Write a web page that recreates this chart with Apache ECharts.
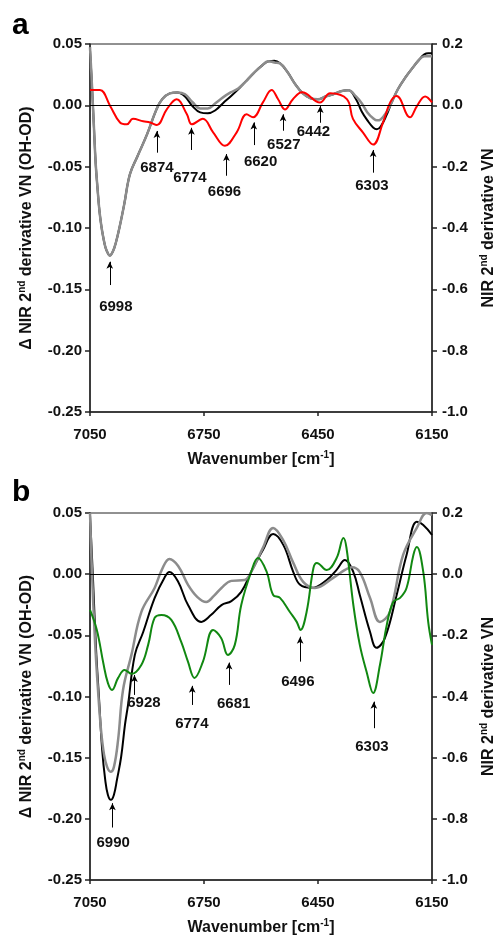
<!DOCTYPE html>
<html>
<head>
<meta charset="utf-8">
<script src="https://cdn.jsdelivr.net/npm/echarts@6/dist/echarts.min.js"></script>
<style>
html,body{margin:0;padding:0;background:#fff;}
#chart{width:498px;height:936px;}
</style>
</head>
<body>
<div id="chart"></div>
<script>
// ---------- Data: panel a ----------
const xTicks = [7050, 6750, 6450, 6150];

const blackA_wn = [7050,7045,7040,7035,7030,7025,7020,7015,7010,7005,6998,6990,6982,6972,6960,6945,6925,6900,6875,6860,6840,6820,6800,6780,6760,6740,6720,6700,6680,6660,6640,6620,6600,6580,6565,6550,6530,6510,6490,6470,6450,6430,6410,6390,6370,6350,6335,6320,6305,6295,6285,6270,6255,6240,6220,6200,6185,6170,6160,6150];
const blackA = [0.18,0.069,-0.062,-0.19,-0.274,-0.346,-0.395,-0.431,-0.46,-0.477,-0.49,-0.477,-0.448,-0.396,-0.323,-0.225,-0.166,-0.095,-0.013,0.02,0.039,0.042,0.029,-0.003,-0.023,-0.026,-0.016,0.007,0.029,0.052,0.078,0.104,0.127,0.144,0.145,0.137,0.108,0.069,0.039,0.023,0.02,0.029,0.036,0.046,0.049,0.02,-0.02,-0.049,-0.072,-0.078,-0.069,-0.033,0.013,0.052,0.091,0.124,0.147,0.166,0.17,0.17];
const grayA = [0.19,0.069,-0.062,-0.19,-0.274,-0.346,-0.395,-0.431,-0.46,-0.477,-0.49,-0.477,-0.448,-0.396,-0.323,-0.225,-0.166,-0.095,-0.013,0.02,0.039,0.042,0.036,0.01,-0.01,-0.01,0.007,0.026,0.042,0.055,0.078,0.104,0.127,0.144,0.14,0.137,0.108,0.069,0.039,0.023,0.02,0.029,0.036,0.046,0.049,0.029,0.007,-0.023,-0.042,-0.049,-0.046,-0.023,0.013,0.052,0.091,0.124,0.147,0.16,0.16,0.16];

const redA_wn = [7050,7024,6997,6971,6953,6937,6910,6892,6874,6848,6822,6795,6782,6753,6726,6695,6664,6638,6621,6595,6572,6555,6537,6516,6492,6445,6418,6374,6358,6332,6305,6279,6260,6243,6208,6190,6168,6150];
const redA = [0.0125,0.0125,-0.0005,-0.014,-0.0155,-0.011,-0.013,-0.014,-0.016,-0.0033,0.0049,-0.0073,-0.0155,-0.011,-0.022,-0.033,-0.022,-0.0073,-0.0098,0.0024,0.0125,0.005,-0.0033,0.005,0.0106,0.0024,0.0098,0.005,-0.011,-0.022,-0.032,-0.014,0.0024,0.0076,-0.0098,-0.0008,0.0073,0.0024];

// ---------- Data: panel b ----------
const blackB_wn = [7050,7042,7034,7026,7018,7010,7003,6995,6987,6979,6968,6958,6950,6932,6910,6880,6853,6841,6818,6792,6757,6731,6704,6678,6652,6626,6595,6568,6541,6515,6497,6467,6427,6401,6379,6357,6340,6313,6296,6274,6243,6217,6190,6173,6150];
const blackB = [0.193,-0.019,-0.247,-0.411,-0.574,-0.672,-0.721,-0.738,-0.721,-0.672,-0.597,-0.493,-0.428,-0.264,-0.189,-0.078,-0.009,0.007,-0.025,-0.101,-0.156,-0.133,-0.101,-0.088,-0.058,0.007,0.079,0.131,0.095,0.007,-0.035,-0.045,-0.019,0.014,0.046,0.007,-0.068,-0.189,-0.241,-0.209,-0.068,0.063,0.171,0.161,0.128];

const grayB_wn = [7050,7045,7037,7029,7021,7013,7005,6996,6987,6976,6963,6941,6915,6880,6861,6841,6818,6792,6768,6744,6724,6704,6678,6643,6626,6595,6568,6542,6515,6489,6458,6410,6379,6361,6340,6313,6287,6261,6226,6190,6164,6150];
const grayB = [0.2,0.014,-0.215,-0.378,-0.509,-0.59,-0.63,-0.646,-0.63,-0.541,-0.378,-0.264,-0.124,-0.045,0.014,0.05,0.027,-0.035,-0.074,-0.091,-0.071,-0.045,-0.022,-0.019,0.007,0.086,0.151,0.112,0.037,-0.025,-0.045,-0.012,0.014,0.023,0.007,-0.078,-0.156,-0.124,0.063,0.151,0.2,0.193];

const greenB_wn = [7050,7032,7015,7003,6992,6976,6959,6941,6915,6897,6880,6862,6836,6810,6792,6775,6753,6726,6705,6687,6669,6652,6626,6608,6585,6568,6550,6524,6506,6496,6480,6462,6453,6427,6401,6383,6375,6357,6340,6322,6305,6287,6269,6252,6234,6217,6199,6190,6173,6160,6150];
const greenB = [-0.0292,-0.0456,-0.0726,-0.0889,-0.0946,-0.0848,-0.0783,-0.0815,-0.0742,-0.0578,-0.0358,-0.0333,-0.0374,-0.0554,-0.0717,-0.0848,-0.0717,-0.0456,-0.0521,-0.066,-0.0578,-0.0252,0.0018,0.0132,0.0018,-0.017,-0.0194,-0.0309,-0.039,-0.0456,-0.0309,0.0051,0.0092,0.0034,0.0132,0.0296,0.0214,-0.0252,-0.0578,-0.0799,-0.0971,-0.0742,-0.0415,-0.0227,-0.0194,-0.0113,0.0157,0.0222,0.0018,-0.039,-0.0578];

// ---------- Peak annotations (arrow x, arrow tip, arrow tail, label x, label y) in left-axis units ----------
const annA = [
  {t:'6998', x:6998, tip:-0.1275, tail:-0.1465, lx:6982, ly:-0.1641},
  {t:'6874', x:6874, tip:-0.0209, tail:-0.0386, lx:6874, ly:-0.0511},
  {t:'6774', x:6783, tip:-0.0183, tail:-0.0364, lx:6787, ly:-0.0593},
  {t:'6696', x:6691, tip:-0.0397, tail:-0.0574, lx:6696, ly:-0.0709},
  {t:'6620', x:6619, tip:-0.0139, tail:-0.0324, lx:6601, ly:-0.046},
  {t:'6527', x:6542, tip:-0.0073, tail:-0.0207, lx:6540, ly:-0.0324},
  {t:'6442', x:6444, tip:-0.0006, tail:-0.0142, lx:6462, ly:-0.022},
  {t:'6303', x:6305, tip:-0.0364, tail:-0.0549, lx:6308, ly:-0.0658}
];
const annB = [
  {t:'6990', x:6991, tip:-0.1872, tail:-0.2071, lx:6989, ly:-0.2199},
  {t:'6928', x:6933, tip:-0.0824, tail:-0.0987, lx:6908, ly:-0.1055},
  {t:'6774', x:6781, tip:-0.0913, tail:-0.1069, lx:6782, ly:-0.1224},
  {t:'6681', x:6684, tip:-0.0723, tail:-0.0905, lx:6672, ly:-0.1063},
  {t:'6496', x:6497, tip:-0.0511, tail:-0.0715, lx:6503, ly:-0.0883},
  {t:'6303', x:6303, tip:-0.1042, tail:-0.1259, lx:6308, ly:-0.1414}
];

// ---------- Build chart ----------
const FONT = 'Liberation Sans, Arial, Helvetica, sans-serif';
const pairs = (xs, ys) => xs.map((x, i) => [x, ys[i]]);
const fmt = d => v => (Math.abs(v) < 1e-9 ? 0 : v).toFixed(d);
const axisCol = '#222';
const supRich = {sup: {fontSize: 10, fontWeight: 'bold', fontFamily: FONT, color: '#111', verticalAlign: 'top', lineHeight: 8}};

function xAxisCfg(gi) {
  return {
    type: 'value', gridIndex: gi, min: 6150, max: 7050, inverse: true,
    axisLine: {show: true, onZero: false, lineStyle: {color: axisCol, width: 1.5}},
    axisTick: {show: true, inside: false, length: 4, customValues: xTicks, lineStyle: {color: axisCol, width: 1.5}},
    axisLabel: {customValues: xTicks, formatter: v => String(v), margin: 15, color: '#111', fontSize: 15, fontWeight: 'bold', fontFamily: FONT},
    splitLine: {show: false},
    name: 'Wavenumber [cm{sup|-1}]', nameLocation: 'middle', nameGap: 38,
    nameTextStyle: {color: '#111', fontSize: 16, fontWeight: 'bold', fontFamily: FONT, lineHeight: 20, rich: supRich}
  };
}
function yLeftCfg(gi) {
  return {
    type: 'value', gridIndex: gi, min: -0.25, max: 0.05, interval: 0.05, position: 'left',
    axisLine: {show: true, onZero: false, lineStyle: {color: axisCol, width: 1.5}},
    axisTick: {show: true, length: 5, lineStyle: {color: axisCol, width: 1.5}},
    axisLabel: {formatter: fmt(2), margin: 8, color: '#111', fontSize: 15, fontWeight: 'bold', fontFamily: FONT},
    splitLine: {show: false},
    name: '\u0394 NIR 2{sup|nd} derivative VN (OH-OD)', nameLocation: 'middle', nameRotate: 90, nameGap: 52,
    nameTextStyle: {color: '#111', fontSize: 16, fontWeight: 'bold', fontFamily: FONT, lineHeight: 20, rich: supRich}
  };
}
function yRightCfg(gi) {
  return {
    type: 'value', gridIndex: gi, min: -1.0, max: 0.2, interval: 0.2, position: 'right',
    axisLine: {show: true, onZero: false, lineStyle: {color: axisCol, width: 1.5}},
    axisTick: {show: true, length: 5, lineStyle: {color: axisCol, width: 1.5}},
    axisLabel: {formatter: fmt(1), margin: 10, color: '#111', fontSize: 15, fontWeight: 'bold', fontFamily: FONT},
    splitLine: {show: false},
    name: 'NIR 2{sup|nd} derivative VN', nameLocation: 'middle', nameRotate: 90, nameGap: 47,
    nameTextStyle: {color: '#111', fontSize: 16, fontWeight: 'bold', fontFamily: FONT, lineHeight: 20, rich: supRich}
  };
}

function lineSeries(name, xi, yi, data, color, width, extra) {
  return Object.assign({
    name, type: 'line', xAxisIndex: xi, yAxisIndex: yi, data, smooth: 0.4,
    showSymbol: false, symbol: 'none', silent: true,
    lineStyle: {color, width}, emphasis: {disabled: true}
  }, extra || {});
}

function zeroLine() {
  return {silent: true, symbol: 'none', label: {show: false},
    lineStyle: {color: '#000', width: 1, type: 'solid'}, emphasis: {disabled: true},
    data: [{yAxis: 0}]};
}
function arrows(ann) {
  return {silent: true, symbol: ['none', 'arrow'], symbolSize: [5, 7], label: {show: false},
    lineStyle: {color: '#000', width: 1, type: 'solid'}, emphasis: {disabled: true},
    data: ann.map(a => [{coord: [a.x, a.tail]}, {coord: [a.x, a.tip]}])};
}
function labels(ann) {
  return {silent: true, symbol: 'rect', symbolSize: 1, itemStyle: {color: 'rgba(0,0,0,0)'},
    label: {show: true, position: 'inside', formatter: '{b}', color: '#111', fontSize: 15, fontWeight: 'bold', fontFamily: FONT},
    emphasis: {disabled: true},
    data: ann.map(a => ({name: a.t, coord: [a.lx, a.ly]}))};
}

const gridBase = {left: 90, width: 342, show: true, borderColor: '#222', borderWidth: 1,
  backgroundColor: 'transparent', containLabel: false, outerBoundsMode: 'none'};

const option = {
  animation: false,
  backgroundColor: '#fff',
  grid: [
    Object.assign({top: 44, height: 368}, gridBase),
    Object.assign({top: 513, height: 367}, gridBase)
  ],
  xAxis: [xAxisCfg(0), xAxisCfg(1)],
  yAxis: [yLeftCfg(0), yRightCfg(0), yLeftCfg(1), yRightCfg(1)],
  graphic: [
    {type: 'text', left: 12, top: 11, style: {text: 'a', fontSize: 30, fontWeight: 'bold', fontFamily: FONT, fill: '#000'}},
    {type: 'text', left: 12, top: 478, style: {text: 'b', fontSize: 30, fontWeight: 'bold', fontFamily: FONT, fill: '#000'}}
  ],
  series: [
    lineSeries('black a', 0, 1, pairs(blackA_wn, blackA), '#000', 2, {markLine: zeroLine()}),
    lineSeries('gray a', 0, 1, pairs(blackA_wn, grayA), '#8c8c8c', 2.5),
    lineSeries('red a', 0, 0, pairs(redA_wn, redA), '#ff0000', 2, {markLine: arrows(annA), markPoint: labels(annA)}),
    lineSeries('black b', 1, 3, pairs(blackB_wn, blackB), '#000', 2, {markLine: zeroLine()}),
    lineSeries('gray b', 1, 3, pairs(grayB_wn, grayB), '#8c8c8c', 2.5),
    lineSeries('green b', 1, 2, pairs(greenB_wn, greenB), '#118811', 2, {markLine: arrows(annB), markPoint: labels(annB)})
  ]
};

const chart = echarts.init(document.getElementById('chart'), null, {renderer: 'canvas'});
chart.setOption(option);
</script>
</body>
</html>
